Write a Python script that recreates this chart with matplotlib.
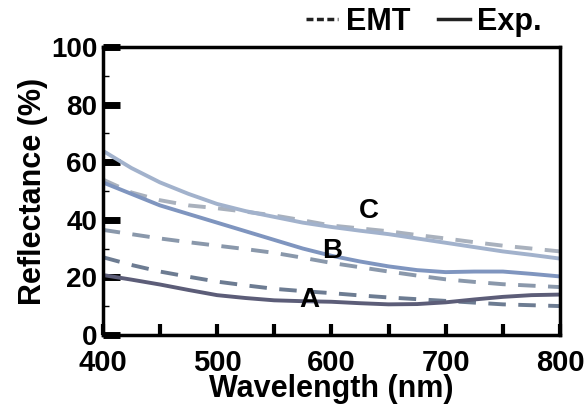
import matplotlib.pyplot as plt
from matplotlib.lines import Line2D
from matplotlib.ticker import MultipleLocator

plt.rcParams['font.family'] = 'Liberation Sans'
plt.rcParams['font.weight'] = 'bold'
plt.rcParams['axes.labelweight'] = 'bold'

wl = [400, 425, 450, 475, 500, 525, 550, 575, 600,
      625, 650, 675, 700, 725, 750, 775, 800]

# measured spectra
exp_a = [20.8, 19.2, 17.5, 15.6, 13.8, 12.8, 12.0, 11.7, 11.5,
         11.0, 10.6, 10.7, 11.3, 12.3, 13.2, 13.8, 14.0]
exp_b = [53.0, 49.0, 45.0, 42.0, 39.0, 36.0, 33.0, 30.0, 27.5,
         25.5, 23.8, 22.5, 21.8, 22.0, 22.0, 21.2, 20.3]
exp_c = [64.0, 58.0, 53.0, 49.0, 45.5, 43.0, 41.0, 39.0, 37.5,
         36.2, 35.0, 33.5, 32.0, 30.5, 29.0, 27.8, 26.5]

# effective medium theory
emt_a = [27.0, 24.3, 22.0, 20.2, 18.5, 17.2, 16.0, 15.2, 14.5,
         13.7, 13.0, 12.4, 11.8, 11.2, 10.6, 10.3, 10.0]
emt_b = [36.5, 35.0, 33.5, 32.2, 31.0, 29.8, 28.5, 26.8, 25.0,
         23.5, 22.0, 20.6, 19.3, 18.4, 17.6, 17.1, 16.6]
emt_c = [54.0, 49.5, 46.8, 45.0, 44.0, 42.8, 41.5, 39.8, 38.0,
         37.0, 36.0, 34.7, 33.5, 32.2, 31.0, 30.0, 29.0]

fig = plt.figure(figsize=(5.87, 4.17), dpi=100)
ax = fig.add_axes([0.175, 0.197, 0.779, 0.69])

dash = (0, (4.5, 3.2))
ax.plot(wl, emt_c, color='#a9b1bd', lw=2.8, linestyle=dash)
ax.plot(wl, emt_b, color='#8a98ab', lw=2.8, linestyle=dash)
ax.plot(wl, emt_a, color='#6d7c92', lw=2.8, linestyle=dash)
ax.plot(wl, exp_c, color='#a2b2cc', lw=2.8)
ax.plot(wl, exp_b, color='#7f95bf', lw=2.8)
ax.plot(wl, exp_a, color='#5c5d78', lw=2.8)

ax.text(581, 12, 'A', fontsize=20, ha='center', va='center')
ax.text(601, 29, 'B', fontsize=20, ha='center', va='center')
ax.text(633, 43, 'C', fontsize=20, ha='center', va='center')

ax.set_xlim(400, 800)
ax.set_ylim(0, 100)
ax.xaxis.set_major_locator(MultipleLocator(100))
ax.xaxis.set_minor_locator(MultipleLocator(50))
ax.yaxis.set_major_locator(MultipleLocator(20))
ax.yaxis.set_minor_locator(MultipleLocator(10))
ax.tick_params(axis='x', which='both', direction='in', length=8, width=3, labelsize=21, pad=10)
ax.tick_params(axis='y', which='major', direction='in', length=12, width=5, labelsize=20, pad=4)
ax.tick_params(axis='y', which='minor', direction='in', length=4, width=1)
for s in ax.spines.values():
    s.set_linewidth(2.5)

ax.set_xlabel('Wavelength (nm)', fontsize=22, labelpad=-2)
ax.set_ylabel('Reflectance (%)', fontsize=22, labelpad=2)

handles = [Line2D([], [], color='#222222', lw=2.5, linestyle=(0, (2.0, 1.0))),
           Line2D([], [], color='#222222', lw=2.5)]
ax.legend(handles, ['EMT', 'Exp.'], loc='center right',
          bbox_to_anchor=(542 / 587, 1 - 22 / 417), bbox_transform=fig.transFigure,
          ncol=2, frameon=False, fontsize=22, handlelength=1.05, handletextpad=0.25,
          columnspacing=0.9, borderaxespad=0, borderpad=0)

fig.savefig('out.png', dpi=100)
